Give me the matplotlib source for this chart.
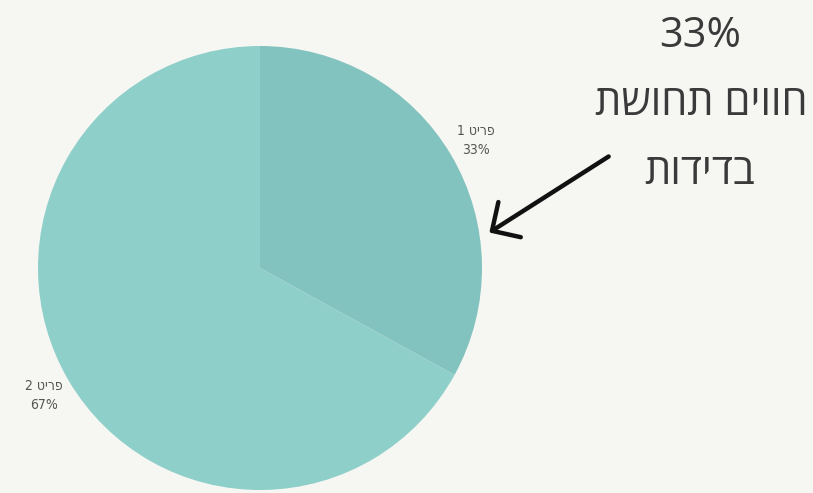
import matplotlib
matplotlib.use("Agg")
import matplotlib.pyplot as plt

# Data
items = ["פריט 1", "פריט 2"]
values = [33, 67]
callout_pct = "33%"
callout_lines = ["חווים תחושת", "בדידות"]

def visual(s):
    # matplotlib has no bidi: give Hebrew in visual (left-to-right) order
    return s[::-1]

colors = ["#83c3bf", "#8ecfca"]
bg = "#f6f7f3"

fig = plt.figure(figsize=(8.13, 4.93), dpi=100, facecolor=bg)
W, H = 813, 493
cx, cy, R = 260, 268, 222
ax = fig.add_axes([(cx - R) / W, (H - cy - R) / H, 2 * R / W, 2 * R / H])
ax.set_facecolor(bg)

labels = [visual(n) + "\n" + f"{v}%" for n, v in zip(items, values)]
wedges, texts = ax.pie(values, colors=colors, startangle=90, counterclock=False,
                       labels=labels, labeldistance=1.13, radius=1,
                       wedgeprops=dict(edgecolor="none"),
                       textprops=dict(fontsize=10, color="#555555",
                                      family=["DejaVu Sans"], fontstretch="condensed",
                                      linespacing=1.5))
for t in texts:
    t.set_ha("center")
    t.set_va("center")
ax.set_xlim(-1, 1)
ax.set_ylim(-1, 1)
ax.set_aspect("equal")
ax.axis("off")

fam = ["Open Sans", "DejaVu Sans"]
for txt, x, y in [(callout_pct, 700, 36),
                  (visual(callout_lines[0]), 701, 104),
                  (visual(callout_lines[1]), 700, 173)]:
    fig.text(x / W, 1 - y / H, txt, ha="center", va="center",
             fontsize=30, color="#3a3a3a", family=fam)

fig.add_artist(matplotlib.patches.FancyArrowPatch(
    (611 / W, 1 - 155 / H), (487 / W, 1 - 234 / H),
    transform=fig.transFigure, arrowstyle="->,head_length=7.5,head_width=7.5",
    mutation_scale=2, lw=3.2, color="#111111"))

fig.savefig("out.png", dpi=100, facecolor=bg)
